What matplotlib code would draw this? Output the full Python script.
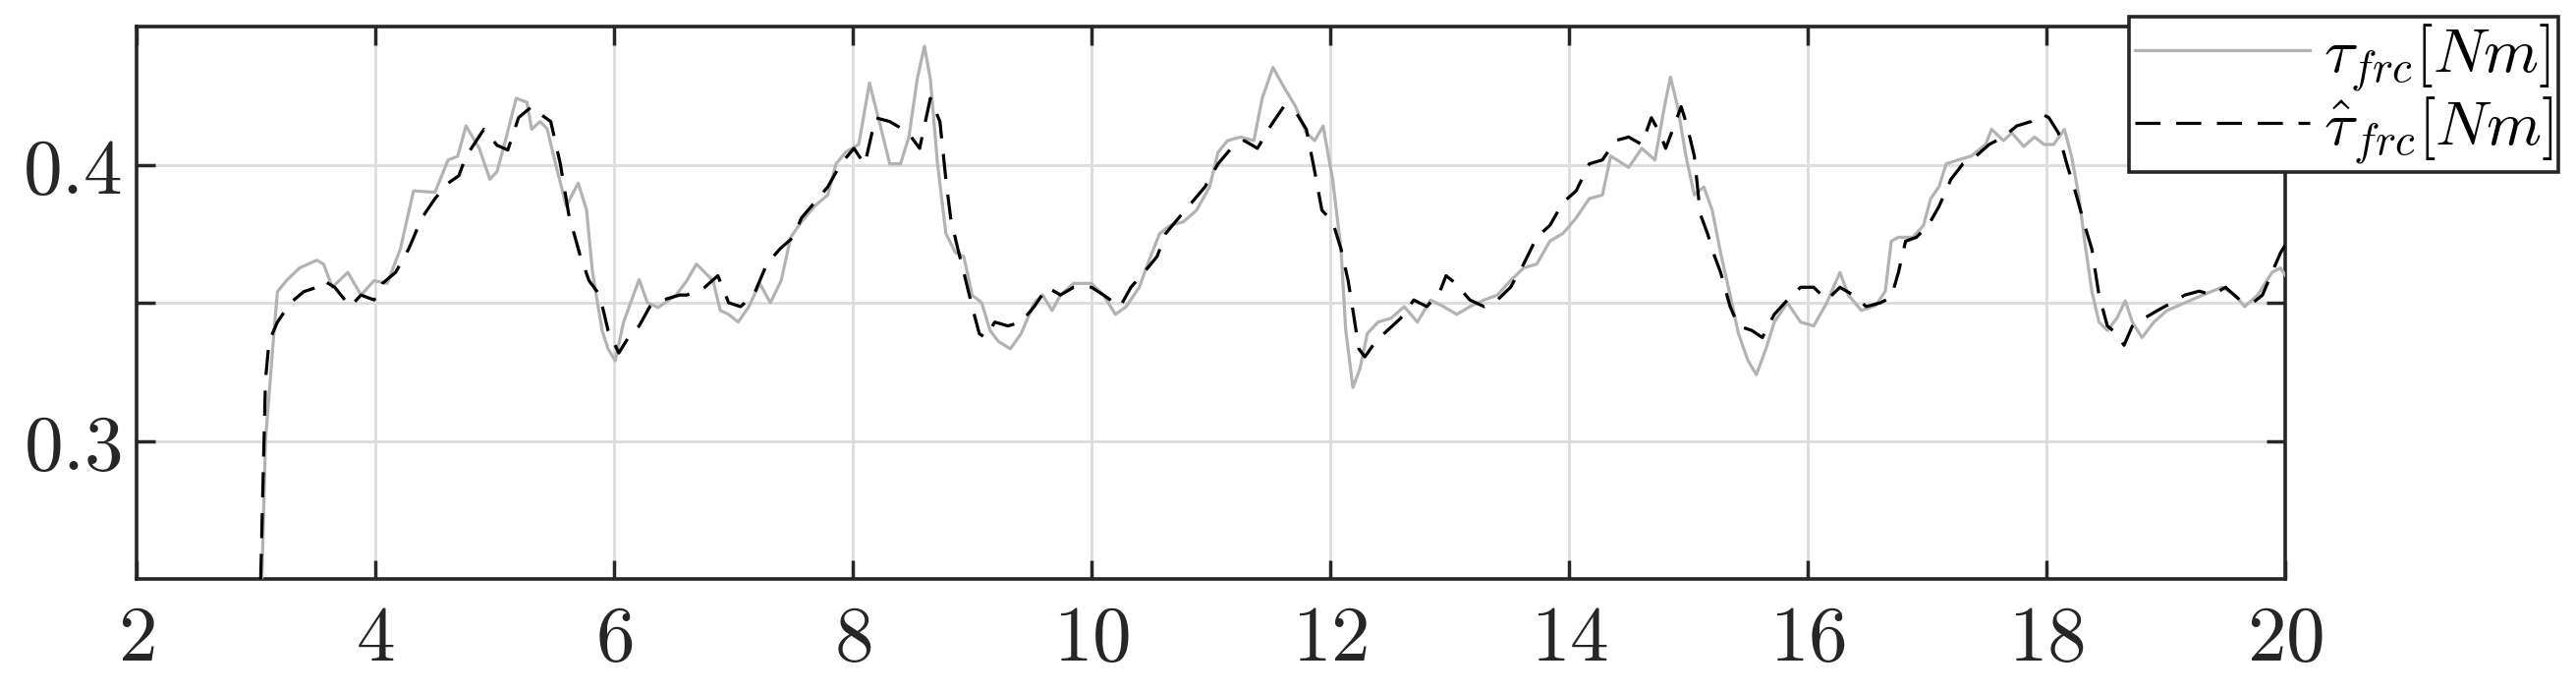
import matplotlib
matplotlib.use('Agg')
import matplotlib.pyplot as plt
from matplotlib.ticker import FuncFormatter

# measured friction torque (grey, solid)
t_meas = [3.05, 3.08, 3.145, 3.18, 3.255, 3.365, 3.51, 3.567, 3.64, 3.77, 3.88, 3.99,
          4.10, 4.21, 4.32, 4.50, 4.61, 4.69, 4.76, 4.87, 4.96, 5.02, 5.09, 5.18,
          5.27, 5.31, 5.38, 5.44, 5.51, 5.60, 5.70, 5.77, 5.82, 5.90, 5.95, 6.01,
          6.08, 6.21, 6.28, 6.37, 6.52, 6.61, 6.69, 6.76, 6.83, 6.89, 6.96, 7.04,
          7.13, 7.22, 7.31, 7.40, 7.48, 7.57, 7.68, 7.79, 7.86, 7.94, 8.05, 8.14,
          8.23, 8.31, 8.40, 8.47, 8.54, 8.60, 8.65, 8.71, 8.78, 8.86, 8.93, 9.00,
          9.08, 9.15, 9.22, 9.32, 9.41, 9.52, 9.59, 9.67, 9.74, 9.85, 10.00, 10.10,
          10.20, 10.29, 10.40, 10.47, 10.57, 10.66, 10.77, 10.88, 10.99, 11.06, 11.14, 11.25,
          11.36, 11.43, 11.52, 11.61, 11.71, 11.80, 11.87, 11.94, 12.02, 12.09, 12.13, 12.19,
          12.25, 12.31, 12.40, 12.51, 12.62, 12.73, 12.84, 12.95, 13.06, 13.17, 13.29, 13.40,
          13.51, 13.62, 13.73, 13.84, 13.95, 14.06, 14.17, 14.28, 14.35, 14.50, 14.61, 14.72,
          14.80, 14.85, 14.91, 14.98, 15.05, 15.13, 15.20, 15.27, 15.35, 15.42, 15.50, 15.57,
          15.65, 15.72, 15.83, 15.94, 16.05, 16.16, 16.27, 16.34, 16.45, 16.57, 16.65, 16.70,
          16.76, 16.88, 16.97, 17.03, 17.10, 17.16, 17.26, 17.37, 17.49, 17.54, 17.64, 17.71,
          17.81, 17.90, 17.98, 18.06, 18.15, 18.21, 18.27, 18.32, 18.38, 18.44, 18.51, 18.59,
          18.66, 18.72, 18.80, 18.90, 19.01, 19.16, 19.31, 19.47, 19.58, 19.66, 19.77, 19.89,
          19.96, 20.00]
tau_meas = [0.250, 0.300, 0.336, 0.354, 0.358, 0.3626, 0.3654, 0.364, 0.3556, 0.361, 0.3528, 0.358,
            0.357, 0.3695, 0.3905, 0.390, 0.4017, 0.403, 0.414, 0.406, 0.3947, 0.3975, 0.4087, 0.424,
            0.4226, 0.4128, 0.4156, 0.413, 0.4003, 0.385, 0.3933, 0.3835, 0.361, 0.340, 0.3333, 0.329,
            0.343, 0.3584, 0.350, 0.3483, 0.3528, 0.358, 0.364, 0.361, 0.358, 0.3472, 0.3458, 0.343,
            0.3486, 0.357, 0.350, 0.358, 0.3737, 0.3793, 0.385, 0.389, 0.4003, 0.4045, 0.4073, 0.4296,
            0.4142, 0.4003, 0.4003, 0.410, 0.431, 0.4429, 0.431, 0.4003, 0.3751, 0.3681, 0.3668, 0.3528,
            0.350, 0.340, 0.336, 0.3333, 0.3388, 0.350, 0.3528, 0.3472, 0.3528, 0.357, 0.357, 0.3528,
            0.3458, 0.3486, 0.3556, 0.364, 0.375, 0.378, 0.3793, 0.3835, 0.392, 0.4045, 0.4087, 0.410,
            0.4087, 0.424, 0.4352, 0.4282, 0.421, 0.4115, 0.4087, 0.414, 0.3947, 0.3695, 0.340, 0.3193,
            0.3263, 0.3388, 0.343, 0.3444, 0.3486, 0.343, 0.351, 0.3486, 0.3458, 0.3486, 0.351, 0.3528,
            0.358, 0.3626, 0.364, 0.3723, 0.3751, 0.3807, 0.3877, 0.389, 0.4031, 0.399, 0.4059, 0.4017,
            0.421, 0.4317, 0.421, 0.4031, 0.389, 0.3919, 0.3835, 0.3681, 0.3528, 0.3388, 0.329, 0.324,
            0.3333, 0.343, 0.350, 0.343, 0.3416, 0.350, 0.361, 0.3528, 0.3472, 0.349, 0.3542, 0.3723,
            0.3737, 0.3737, 0.378, 0.3877, 0.392, 0.4003, 0.4017, 0.4031, 0.4073, 0.4128, 0.4087, 0.4115,
            0.4066, 0.410, 0.4073, 0.4073, 0.4128, 0.4031, 0.389, 0.3723, 0.3542, 0.343, 0.340, 0.3444,
            0.3507, 0.343, 0.3374, 0.343, 0.3472, 0.350, 0.3528, 0.3556, 0.3528, 0.3486, 0.3528, 0.361,
            0.3626, 0.360]

# estimated friction torque (black, dashed)
t_est = [3.04, 3.08, 3.11, 3.18, 3.29, 3.40, 3.51, 3.567, 3.66, 3.79, 3.88, 3.99,
         4.06, 4.17, 4.28, 4.39, 4.50, 4.61, 4.70, 4.76, 4.91, 5.02, 5.11, 5.20,
         5.31, 5.38, 5.47, 5.55, 5.62, 5.71, 5.79, 5.88, 5.95, 6.04, 6.12, 6.21,
         6.30, 6.41, 6.55, 6.61, 6.76, 6.87, 6.96, 7.06, 7.17, 7.28, 7.39, 7.50,
         7.57, 7.68, 7.79, 7.90, 8.01, 8.10, 8.19, 8.31, 8.42, 8.49, 8.56, 8.65,
         8.73, 8.78, 8.82, 8.88, 8.93, 9.00, 9.06, 9.11, 9.19, 9.30, 9.41, 9.52,
         9.63, 9.74, 9.85, 10.00, 10.10, 10.24, 10.33, 10.44, 10.55, 10.62, 10.73, 10.84,
         10.95, 11.06, 11.17, 11.28, 11.39, 11.50, 11.61, 11.72, 11.80, 11.87, 11.93, 12.02,
         12.09, 12.15, 12.19, 12.24, 12.29, 12.38, 12.48, 12.59, 12.70, 12.81, 12.92, 12.97,
         13.05, 13.17, 13.29, 13.40, 13.51, 13.62, 13.73, 13.84, 13.95, 14.06, 14.17, 14.28,
         14.39, 14.50, 14.61, 14.69, 14.76, 14.81, 14.87, 14.94, 14.99, 15.05, 15.10, 15.16,
         15.22, 15.27, 15.35, 15.42, 15.53, 15.62, 15.72, 15.83, 15.94, 16.05, 16.16, 16.27,
         16.38, 16.49, 16.61, 16.70, 16.76, 16.82, 16.91, 17.01, 17.10, 17.20, 17.30, 17.41,
         17.52, 17.64, 17.75, 17.87, 17.96, 18.02, 18.10, 18.17, 18.25, 18.32, 18.38, 18.44,
         18.51, 18.59, 18.65, 18.72, 18.82, 18.93, 19.05, 19.16, 19.28, 19.39, 19.50, 19.62,
         19.73, 19.81, 19.89, 19.96, 20.00]
tau_est = [0.250, 0.322, 0.336, 0.343, 0.350, 0.354, 0.3556, 0.358, 0.3556, 0.3486, 0.3528, 0.351,
           0.357, 0.361, 0.3695, 0.3807, 0.3877, 0.3933, 0.396, 0.403, 0.4128, 0.407, 0.4053, 0.417,
           0.421, 0.4184, 0.4156, 0.4003, 0.3821, 0.368, 0.358, 0.3528, 0.340, 0.3318, 0.3374, 0.3416,
           0.3486, 0.351, 0.3528, 0.3528, 0.3556, 0.3598, 0.350, 0.3486, 0.3528, 0.364, 0.3695, 0.3737,
           0.3807, 0.3863, 0.3919, 0.4003, 0.4059, 0.400, 0.417, 0.4156, 0.4128, 0.410, 0.4059, 0.424,
           0.4156, 0.3947, 0.3807, 0.3695, 0.361, 0.3486, 0.3388, 0.3374, 0.343, 0.3416, 0.343, 0.3486,
           0.3556, 0.3528, 0.3556, 0.3556, 0.3528, 0.3486, 0.3556, 0.361, 0.3668, 0.375, 0.3807, 0.3863,
           0.3919, 0.4003, 0.4059, 0.4087, 0.4059, 0.414, 0.421, 0.4184, 0.4128, 0.3975, 0.3835, 0.3793,
           0.3695, 0.358, 0.3472, 0.3333, 0.3304, 0.336, 0.340, 0.3444, 0.351, 0.3486, 0.3542, 0.3598,
           0.357, 0.351, 0.3486, 0.351, 0.3556, 0.364, 0.3737, 0.378, 0.3863, 0.3905, 0.4003, 0.4017,
           0.4087, 0.410, 0.4073, 0.417, 0.4115, 0.4059, 0.4128, 0.421, 0.414, 0.4031, 0.3821, 0.3751,
           0.3668, 0.361, 0.3486, 0.3416, 0.340, 0.3374, 0.3458, 0.351, 0.3556, 0.3556, 0.351, 0.3556,
           0.3528, 0.3486, 0.350, 0.352, 0.361, 0.3723, 0.3737, 0.378, 0.3849, 0.3947, 0.4003, 0.4031,
           0.4073, 0.410, 0.414, 0.4156, 0.4184, 0.417, 0.4115, 0.4003, 0.389, 0.378, 0.3695, 0.3528,
           0.3416, 0.3388, 0.3346, 0.3416, 0.3444, 0.3472, 0.350, 0.3528, 0.3542, 0.3528, 0.3556, 0.351,
           0.350, 0.3528, 0.361, 0.368, 0.3709]

x_ticks = [2, 4, 6, 8, 10, 12, 14, 16, 18, 20]
y_ticks = [0.3, 0.35, 0.4]
y_ticklabels = ['$0.3$', '', '$0.4$']
labels = [r'$\tau_{frc}[Nm]$', r'$\hat{\tau}_{frc}[Nm]$']

plt.rcParams['mathtext.fontset'] = 'cm'
plt.rcParams['font.family'] = ['DejaVu Serif']

fig = plt.figure(figsize=(26.22, 7.04), dpi=100)
ax = fig.add_axes([139 / 2622, 1 - 589 / 704, (2326 - 139) / 2622, (589 - 27) / 704])

ax.plot(t_meas, tau_meas, color='#b3b3b3', lw=2.3, label=labels[0], zorder=3)
ax.plot(t_est, tau_est, color='black', lw=2.3, linestyle=(0, (8, 5)), label=labels[1], zorder=4)

ax.set_xlim(2, 20)
ax.set_ylim(0.25, 0.45)
ax.set_xticks(x_ticks)
ax.xaxis.set_major_formatter(FuncFormatter(lambda v, p: f'${v:g}$'))
ax.set_yticks(y_ticks)
ax.set_yticklabels(y_ticklabels)

ax.grid(True, color='#dcdcdc', lw=2.0)
ax.set_axisbelow(True)
ax.tick_params(direction='in', length=14, width=2.5, color='#262626', labelcolor='#262626',
               labelsize=57, top=True, right=True)
ax.tick_params(axis='x', pad=17)
ax.tick_params(axis='y', pad=11)
for s in ax.spines.values():
    s.set_color('#262626')
    s.set_linewidth(2.6)

leg = fig.legend(loc='upper right', bbox_to_anchor=(2604 / 2622, 1 - 17 / 704),
                 bbox_transform=fig.transFigure, borderaxespad=0, fontsize=46,
                 fancybox=False, framealpha=1, edgecolor='#262626',
                 handlelength=2.8, handletextpad=0.22, labelspacing=0.0, borderpad=0.08)
leg.get_frame().set_linewidth(2.6)

fig.savefig('out.png', dpi=100)
